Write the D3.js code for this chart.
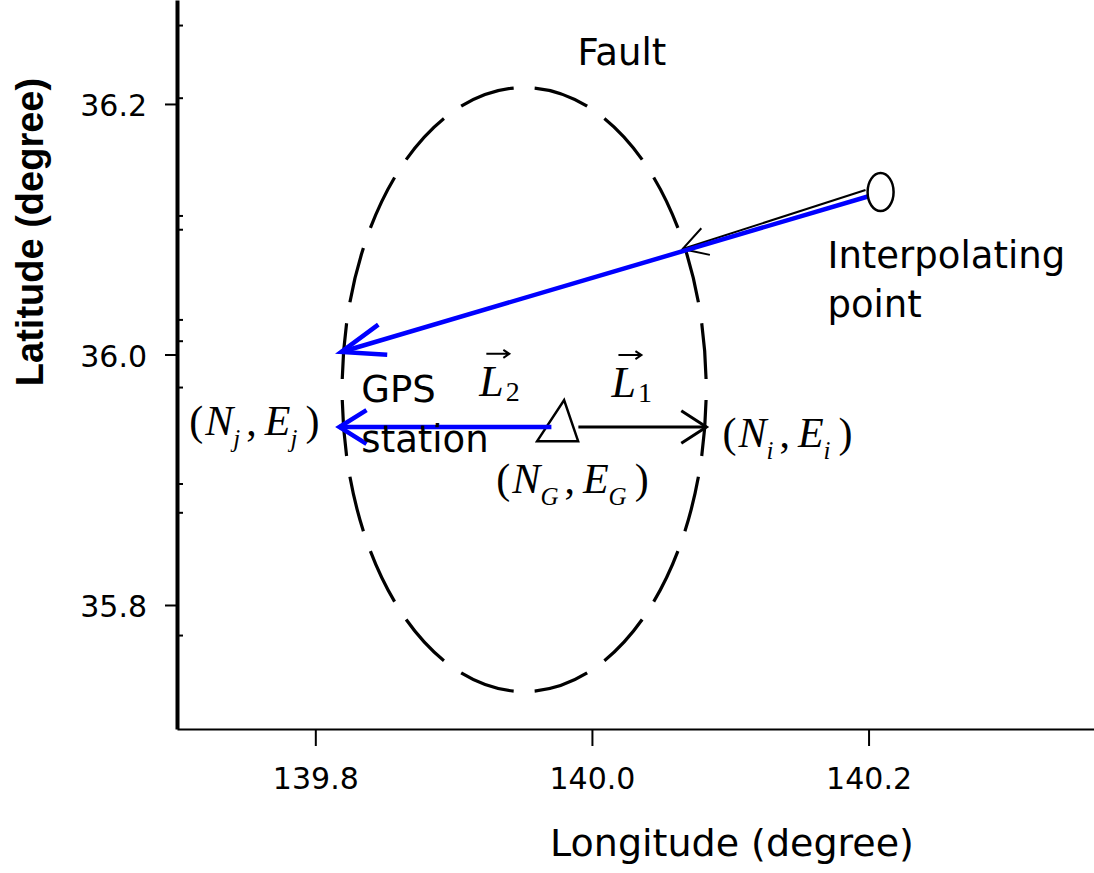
<!DOCTYPE html>
<html>
<head>
<meta charset="utf-8">
<script src="https://cdn.jsdelivr.net/npm/d3@7"></script>
<style>
body { margin:0; background:#fff; }
svg { display:block; }
</style>
</head>
<body>
<script>
// tick values
var lonTicks = [139.8, 140.0, 140.2];
var latTicks = [35.8, 36.0, 36.2];
var latMinor = [36.263, 36.205, 36.111, 36.100, 36.028, 36.011, 35.974, 35.897, 35.874, 35.776];

// fault ellipse (center lon/lat, semi axes in degrees)
var faultCenter = [139.951, 35.972];
var faultRadius = [0.1316, 0.2411];

// marked points
var interpPoint = [140.2087, 36.1297];
var gpsStation = [139.977, 35.942];

// arrows, from -> to (lon, lat)
var arrowNames = ["black_short", "blue_long", "L2", "L1"];
var arrowFrom = [[140.1978, 36.1313], [140.2007, 36.1265], [139.9707, 35.9421], [139.9902, 35.9421]];
var arrowTo = [[140.0655, 36.0842], [139.8188, 36.0020], [139.8174, 35.9421], [140.0828, 35.9421]];

// plain text labels
var textLabels = ["Fault", "Interpolating", "point", "GPS", "station"];
var textPos = [[139.9895, 36.2311], [140.1703, 36.0691], [140.1703, 36.0299], [139.8333, 35.9621], [139.8333, 35.9222]];

// coordinate labels (N_s, E_s)
var coordSubs = ["j", "G", "i"];
var coordPos = [[139.7089, 35.9357], [139.9309, 35.8894], [140.0944, 35.9262]];

// vector labels L_1, L_2
var vecSubs = ["2", "1"];
var vecPos = [[139.9186, 35.9670], [140.0141, 35.9660]];

// styles, kept apart from the data
var arrowStyle = {
  black_short: {color:"#000", width:2, head:28, ang:30},
  blue_long:   {color:"#0000ff", width:4.5, head:46, ang:20},
  L2:          {color:"#0000ff", width:4.5, head:32, ang:32},
  L1:          {color:"#000", width:3, head:30, ang:33}
};

var W = 1094, H = 873;
var svg = d3.select("body").append("svg").attr("width", W).attr("height", H);

var x = d3.scaleLinear().domain([139.7, 140.363]).range([177, 1094]);
var y = d3.scaleLinear().domain([35.701, 36.283]).range([729, 0]);

// axes
var xAxis = svg.append("g").attr("transform", "translate(0,729)")
  .call(d3.axisBottom(x).tickValues(lonTicks).tickSize(17).tickSizeOuter(0)
    .tickPadding(22).tickFormat(d3.format(".1f")));
xAxis.attr("font-family", "DejaVu Sans").attr("font-size", 30);
xAxis.select(".domain").attr("stroke-width", 2);
xAxis.selectAll(".tick line").attr("stroke-width", 2);
xAxis.selectAll(".tick text").attr("fill", "#000");

var yAxis = svg.append("g").attr("transform", "translate(177,0)")
  .call(d3.axisLeft(y).tickValues(latTicks).tickSize(12).tickSizeOuter(0)
    .tickPadding(18).tickFormat(d3.format(".1f")));
yAxis.attr("font-family", "DejaVu Sans").attr("font-size", 30);
yAxis.select(".domain").attr("stroke-width", 4);
yAxis.selectAll(".tick line").attr("stroke-width", 2);
yAxis.selectAll(".tick text").attr("fill", "#000").attr("dy", "0.4em");

var yMinor = svg.append("g").attr("transform", "translate(177,0)")
  .call(d3.axisLeft(y).tickValues(latMinor).tickSize(-6).tickSizeOuter(0).tickFormat(""));
yMinor.select(".domain").remove();
yMinor.selectAll(".tick line").attr("stroke-width", 2);

// axis titles
svg.append("text")
  .attr("x", 732).attr("y", 856)
  .attr("text-anchor", "middle")
  .attr("font-family", "DejaVu Sans").attr("font-size", 38)
  .text("Longitude (degree)");

svg.append("text")
  .attr("transform", "translate(43,232) rotate(-90)")
  .attr("text-anchor", "middle")
  .attr("font-family", "Liberation Sans").attr("font-weight", "bold").attr("font-size", 38)
  .text("Latitude (degree)");

// fault: dashed ellipse
svg.append("ellipse")
  .attr("cx", x(faultCenter[0])).attr("cy", y(faultCenter[1]))
  .attr("rx", x(faultCenter[0] + faultRadius[0]) - x(faultCenter[0]))
  .attr("ry", y(faultCenter[1] - faultRadius[1]) - y(faultCenter[1]))
  .attr("pathLength", 1000)
  .attr("fill", "none").attr("stroke", "#000").attr("stroke-width", 3.2)
  .attr("stroke-dasharray", "36.3 13.7")
  .attr("stroke-dashoffset", 43.15);

// gps station triangle
var gx = x(gpsStation[0]), gy = y(gpsStation[1]);
svg.append("path")
  .attr("d", "M" + (gx + 4) + "," + (gy - 27) + "L" + (gx + 18) + "," + (gy + 14) + "L" + (gx - 23) + "," + (gy + 14) + "Z")
  .attr("fill", "#fff").attr("stroke", "#000").attr("stroke-width", 2.5)
  .attr("stroke-linejoin", "miter");

function headPath(tip, tail, len, ang) {
  var a = Math.atan2(tail[1] - tip[1], tail[0] - tip[0]), r = ang * Math.PI / 180;
  return "M" + [tip[0] + len * Math.cos(a + r), tip[1] + len * Math.sin(a + r)] +
    "L" + tip + "L" + [tip[0] + len * Math.cos(a - r), tip[1] + len * Math.sin(a - r)];
}

// arrows
var arrowG = svg.append("g");
arrowNames.forEach(function (name, i) {
  var s = arrowStyle[name];
  var p0 = [x(arrowFrom[i][0]), y(arrowFrom[i][1])];
  var p1 = [x(arrowTo[i][0]), y(arrowTo[i][1])];
  arrowG.append("path")
    .attr("d", "M" + p0 + "L" + p1)
    .attr("stroke", s.color).attr("stroke-width", s.width).attr("fill", "none");
  arrowG.append("path")
    .attr("d", headPath(p1, p0, s.head, s.ang))
    .attr("stroke", s.color).attr("stroke-width", s.width).attr("fill", "none")
    .attr("stroke-linejoin", "miter");
});

// interpolating point
svg.append("ellipse")
  .attr("cx", x(interpPoint[0])).attr("cy", y(interpPoint[1]))
  .attr("rx", 13).attr("ry", 19)
  .attr("fill", "#fff").attr("stroke", "#000").attr("stroke-width", 2.5);

// plain labels
svg.append("g").selectAll("text")
  .data(textLabels)
  .enter().append("text")
  .attr("x", function (d, i) { return x(textPos[i][0]); })
  .attr("y", function (d, i) { return y(textPos[i][1]); })
  .attr("font-family", "DejaVu Sans").attr("font-size", 37)
  .text(function (d) { return d; });

// (N_s, E_s) labels
coordSubs.forEach(function (s, i) {
  var t = svg.append("text")
    .attr("x", x(coordPos[i][0])).attr("y", y(coordPos[i][1]))
    .attr("font-family", "Liberation Serif").attr("font-size", 42);
  t.append("tspan").text("(");
  t.append("tspan").attr("dx", 2).attr("font-style", "italic").text("N");
  t.append("tspan").attr("dy", 12).attr("font-size", 25).attr("font-style", "italic").text(s);
  t.append("tspan").attr("dy", -12).attr("dx", 6).text(",");
  t.append("tspan").attr("dx", 8).attr("font-style", "italic").text("E");
  t.append("tspan").attr("dy", 12).attr("font-size", 25).attr("font-style", "italic").text(s);
  t.append("tspan").attr("dy", -12).attr("dx", 8).text(")");
});

// vector labels L with arrow on top
vecSubs.forEach(function (s, i) {
  var lx = x(vecPos[i][0]), ly = y(vecPos[i][1]);
  var t = svg.append("text")
    .attr("x", lx).attr("y", ly)
    .attr("font-family", "Liberation Serif").attr("font-size", 44);
  t.append("tspan").attr("font-style", "italic").text("L");
  t.append("tspan").attr("dy", 5).attr("dx", 2).attr("font-size", 28).text(s);
  var ax = lx + 7, ay = ly - 42;
  svg.append("path")
    .attr("d", "M" + ax + "," + ay + "L" + (ax + 23) + "," + ay +
      "M" + (ax + 17) + "," + (ay - 4) + "L" + (ax + 23) + "," + ay + "L" + (ax + 17) + "," + (ay + 4))
    .attr("stroke", "#000").attr("stroke-width", 2).attr("fill", "none");
});
</script>
</body>
</html>
